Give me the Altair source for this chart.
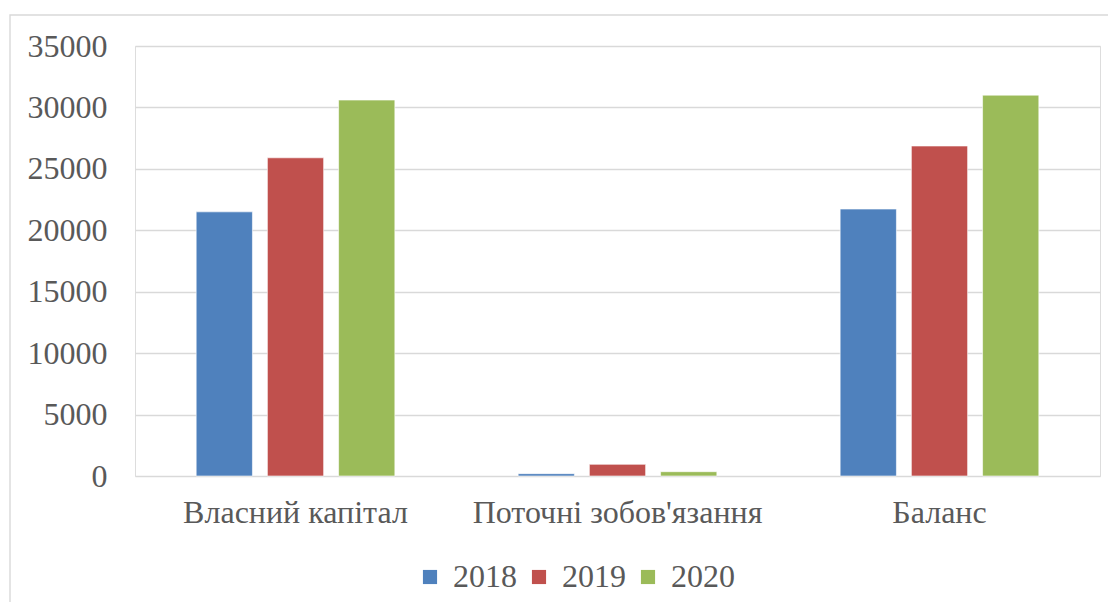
import altair as alt
import pandas as pd

categories = ["Власний капітал", "Поточні зобов'язання", "Баланс"]
years = ["2018", "2019", "2020"]
v2018 = [21500, 190, 21730]
v2019 = [25900, 950, 26860]
v2020 = [30600, 350, 31000]
colors = ["#4F81BD", "#C0504D", "#9BBB59"]

rows = []
for i, c in enumerate(categories):
    for y, vals in zip(years, [v2018, v2019, v2020]):
        rows.append({"cat": c, "year": y, "value": vals[i]})
df = pd.DataFrame(rows)

FONT = "Times New Roman"
FS = 32
TXT = "#595959"
GRID = "#D9D9D9"

bars = alt.Chart(df).mark_bar(stroke="white", strokeWidth=0.6).encode(
    x=alt.X("cat:N", sort=categories, title=None,
            scale=alt.Scale(paddingInner=0.383, paddingOuter=0.19),
            axis=alt.Axis(labelAngle=0, labelFont=FONT, labelFontSize=FS,
                          labelColor=TXT, ticks=False, domain=False,
                          labelPadding=21, labelLimit=0)),
    xOffset=alt.XOffset("year:N", sort=years,
                        scale=alt.Scale(paddingInner=0.21, paddingOuter=0)),
    y=alt.Y("value:Q", title=None,
            scale=alt.Scale(domain=[0, 35000], nice=False),
            axis=alt.Axis(values=list(range(0, 35001, 5000)), labelFont=FONT,
                          labelFontSize=FS, labelColor=TXT, ticks=False,
                          domain=False, labelPadding=28, gridColor=GRID,
                          gridWidth=1.4, format="d")),
    color=alt.Color("year:N", sort=years,
                    scale=alt.Scale(domain=years, range=colors),
                    legend=alt.Legend(title=None, orient="none", direction="horizontal",
                                      legendX=279, legendY=515,
                                      symbolType="square", symbolSize=200,
                                      symbolStrokeWidth=0, labelFont=FONT,
                                      labelFontSize=FS, labelColor=TXT,
                                      columnPadding=6, labelOffset=7, labelLimit=0)),
)

border = alt.Chart(pd.DataFrame({"a": [0]})).mark_rect(
    fill=None, stroke=GRID, strokeWidth=1.4).encode(
    x=alt.value(-125), x2=alt.value(1000), y=alt.value(-31), y2=alt.value(700))

chart = alt.layer(border, bars).properties(
    width=965, height=430,
    autosize=alt.AutoSizeParams(type="none"),
    padding={"left": 127, "top": 38, "right": 8, "bottom": 126},
).configure_view(stroke=None).configure(background="white")

chart.save("out.html", embed_options={"renderer": "svg", "actions": False})
